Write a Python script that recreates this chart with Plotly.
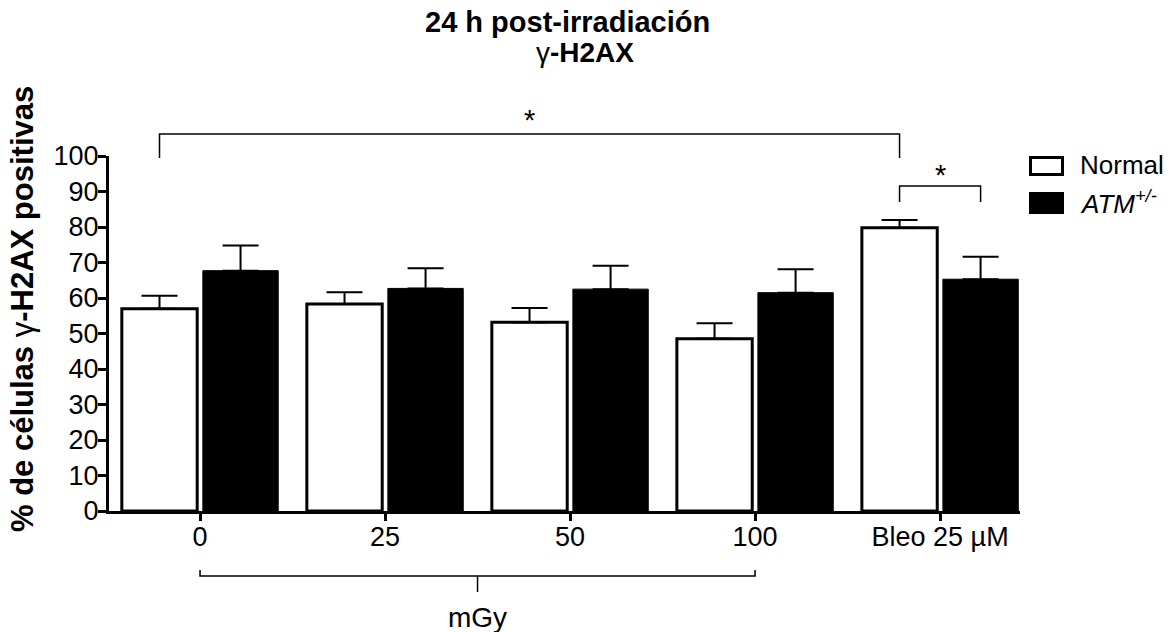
import plotly.graph_objects as go

# Data: % gamma-H2AX positive cells, 24 h after irradiation
categories = ["0", "25", "50", "100", "Bleo 25 µM"]
normal_mean = [57.0, 58.3, 53.2, 48.5, 79.8]
normal_sem = [3.6, 3.3, 4.0, 4.4, 2.2]
atm_mean = [67.7, 62.7, 62.5, 61.5, 65.3]
atm_sem = [7.1, 5.7, 6.6, 6.6, 6.3]

FONT = "Liberation Sans, Arial, sans-serif"
W, H = 1170, 632
M_L, M_R, M_T, M_B = 109, 150, 156, 121
X_RANGE = [-0.492, 4.432]
Y_RANGE = [0, 100]
BARGAP = 0.124
OFFSET = (1 - BARGAP) / 4  # centre offset of each bar within a group

xs = list(range(len(categories)))

fig = go.Figure()
fig.add_trace(go.Bar(
    name="Normal", x=xs, y=normal_mean,
    marker=dict(color="white", line=dict(color="black", width=3)),
    error_y=dict(type="data", symmetric=False, array=normal_sem,
                 arrayminus=[0] * len(xs), color="black", thickness=2, width=18),
))
fig.add_trace(go.Bar(
    name="ATM+/-", x=xs, y=atm_mean,
    marker=dict(color="black", line=dict(color="black", width=1)),
    error_y=dict(type="data", symmetric=False, array=atm_sem,
                 arrayminus=[0] * len(xs), color="black", thickness=2, width=18),
))


def px_x(xd):
    return (xd - X_RANGE[0]) / (X_RANGE[1] - X_RANGE[0])


plot_h = H - M_T - M_B
plot_w = W - M_L - M_R


def py(pix):
    # pixel row -> paper y
    return (H - M_B - pix) / plot_h


def pxp(pix):
    # pixel column -> paper x
    return (pix - M_L) / plot_w


shapes = []
line = dict(color="black", width=1.5)


def bracket(x0, x1, y_top, y_leg):
    shapes.append(dict(type="path", xref="paper", yref="paper",
                       path=f"M {x0} {y_leg} L {x0} {y_top} L {x1} {y_top} L {x1} {y_leg}",
                       line=line))


# Significance brackets: Normal 0 vs Normal Bleo, Normal Bleo vs ATM Bleo
n0 = px_x(0 - OFFSET)
nb = px_x(4 - OFFSET)
ab = px_x(4 + OFFSET)
bracket(n0, nb, py(134), py(158))
bracket(nb, ab, py(186), py(202))

# Dose bracket under the x axis (0 to 100 mGy)
d0 = px_x(0)
d1 = px_x(3)
bracket(d0, d1, py(576), py(570))
shapes.append(dict(type="line", xref="paper", yref="paper",
                   x0=(d0 + d1) / 2, x1=(d0 + d1) / 2, y0=py(576), y1=py(592), line=line))

# Legend swatches
shapes.append(dict(type="rect", xref="paper", yref="paper",
                   x0=pxp(1030.5), x1=pxp(1062.5), y0=py(157.5), y1=py(174.5),
                   fillcolor="white", line=dict(color="black", width=3)))
shapes.append(dict(type="rect", xref="paper", yref="paper",
                   x0=pxp(1029), x1=pxp(1064), y0=py(192), y1=py(214),
                   fillcolor="black", line=dict(color="black", width=0)))

annotations = [
    dict(text="<b>24 h post-irradiación</b>", x=pxp(567), y=py(21.5), xref="paper", yref="paper",
         showarrow=False, font=dict(size=29, family=FONT, color="black"), xanchor="center", yanchor="middle"),
    dict(text="γ<b>-H2AX</b>", x=pxp(585), y=py(53), xref="paper", yref="paper",
         showarrow=False, font=dict(size=28, family=FONT, color="black"), xanchor="center", yanchor="middle"),
    dict(text="<b>% de células </b>γ<b>-H2AX positivas</b>", x=pxp(22), y=py(309), xref="paper", yref="paper",
         showarrow=False, textangle=-90, font=dict(size=31, family=FONT, color="black"),
         xanchor="center", yanchor="middle"),
    dict(text="*", x=(n0 + nb) / 2, y=py(120), xref="paper", yref="paper", showarrow=False,
         font=dict(size=29, family=FONT, color="black"), xanchor="center", yanchor="middle"),
    dict(text="*", x=(nb + ab) / 2, y=py(175), xref="paper", yref="paper", showarrow=False,
         font=dict(size=29, family=FONT, color="black"), xanchor="center", yanchor="middle"),
    dict(text="mGy", x=(d0 + d1) / 2, y=py(617), xref="paper", yref="paper", showarrow=False,
         font=dict(size=28, family=FONT, color="black"), xanchor="center", yanchor="middle"),
    dict(text="Normal", x=pxp(1078), y=py(165), xref="paper", yref="paper", showarrow=False,
         font=dict(size=26, family=FONT, color="black"), xanchor="left", yanchor="middle"),
    dict(text="<i>ATM<sup>+/-</sup></i>", x=pxp(1078), y=py(202), xref="paper", yref="paper",
         showarrow=False, font=dict(size=26, family=FONT, color="black"),
         xanchor="left", yanchor="middle"),
]

fig.update_layout(
    width=W, height=H,
    margin=dict(l=M_L, r=M_R, t=M_T, b=M_B, pad=0),
    paper_bgcolor="white", plot_bgcolor="white",
    barmode="group", bargap=BARGAP, bargroupgap=0.07,
    showlegend=False,
    font=dict(family=FONT, size=26, color="black"),
    shapes=shapes, annotations=annotations,
)
fig.update_xaxes(
    range=X_RANGE, tickmode="array", tickvals=xs, ticktext=categories,
    showline=True, linecolor="black", linewidth=3, ticks="outside", ticklen=7, tickwidth=3,
    tickcolor="black", showgrid=False, zeroline=False, tickfont=dict(size=27),
    ticklabelstandoff=-7,
)
fig.update_yaxes(
    range=Y_RANGE, dtick=10, tick0=0,
    showline=True, linecolor="black", linewidth=3, ticks="outside", ticklen=8, tickwidth=3,
    tickcolor="black", showgrid=False, zeroline=False, tickfont=dict(size=27),
    ticklabelstandoff=-6,
)

fig.write_html("out.html")
